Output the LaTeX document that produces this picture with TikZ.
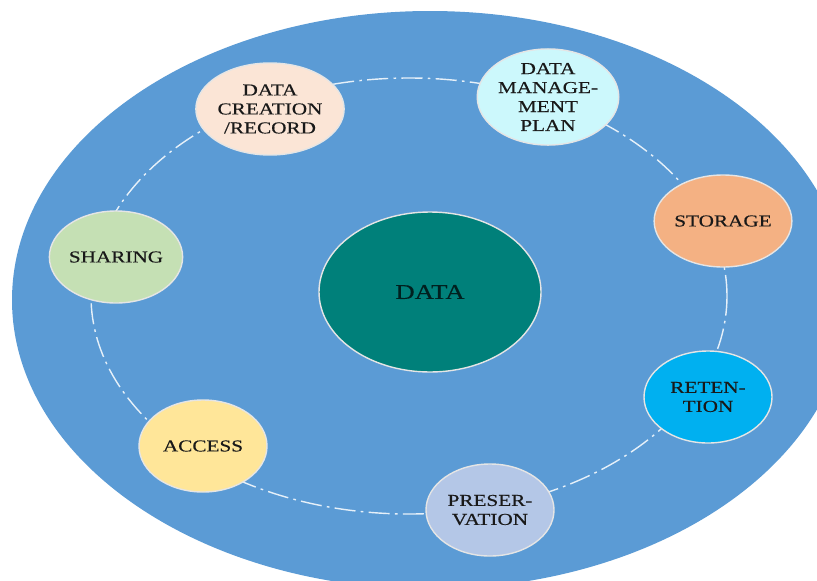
\documentclass[tikz,border=0pt]{standalone}
\usepackage{fontspec}
\setmainfont{Liberation Serif}[FakeStretch=1.27, FakeBold=0.4]
\usepackage{xcolor}
\usetikzlibrary{shapes.geometric}

\definecolor{bgblue}{HTML}{5B9BD5}
\definecolor{dataTeal}{HTML}{00807A}
\definecolor{peach}{HTML}{FBE5D6}
\definecolor{paleCyan}{HTML}{CCF8FC}
\definecolor{apricot}{HTML}{F4B183}
\definecolor{skyBlue}{HTML}{00B0F0}
\definecolor{lilacBlue}{HTML}{B4C7E7}
\definecolor{butter}{HTML}{FFE699}
\definecolor{sage}{HTML}{C5E0B4}

\tikzset{
  stage/.style={ellipse, draw=white!80!gray, line width=0.8pt,
    minimum width=2.56cm, minimum height=1.84cm, inner sep=0pt,
    align=center, text=black!90, font=\fontsize{9.5}{10.8}\selectfont},
  orbit/.style={draw=white!85!bgblue, line width=0.8pt,
    dash pattern=on 12pt off 3pt on 1.5pt off 3pt}
}

\begin{document}
\begin{tikzpicture}
    \useasboundingbox (0,0) rectangle (16.34,-11.6);
    \fill[bgblue] (8.6,-6.0) ellipse (8.36 and 5.78);

    % dash-dot orbit behind the stages
    \coordinate (hub) at (8.18,-5.92);
    \draw[orbit] (hub) ellipse (6.36 and 4.36);

    \node[stage, fill=dataTeal, minimum width=4.44cm, minimum height=3.2cm,
      text=black!75!dataTeal, font=\fontsize{12}{14}\selectfont] (data) at (8.6,-5.84) {DATA};

    \node[stage, fill=peach] (creation) at (5.4,-2.18) {DATA\\CREATION\\/RECORD};
    \node[stage, fill=paleCyan] (plan) at (10.96,-1.94) {DATA\\MANAGE-\\MENT\\PLAN};
    \node[stage, fill=apricot] (storage) at (14.46,-4.42) {STORAGE};
    \node[stage, fill=skyBlue] (retention) at (14.16,-7.94) {RETEN-\\TION};
    \node[stage, fill=lilacBlue] (preservation) at (9.8,-10.2) {PRESER-\\VATION};
    \node[stage, fill=butter] (access) at (4.06,-8.92) {ACCESS};
    \node[stage, fill=sage] (sharing) at (2.32,-5.14) {SHARING};
\end{tikzpicture}
\end{document}
